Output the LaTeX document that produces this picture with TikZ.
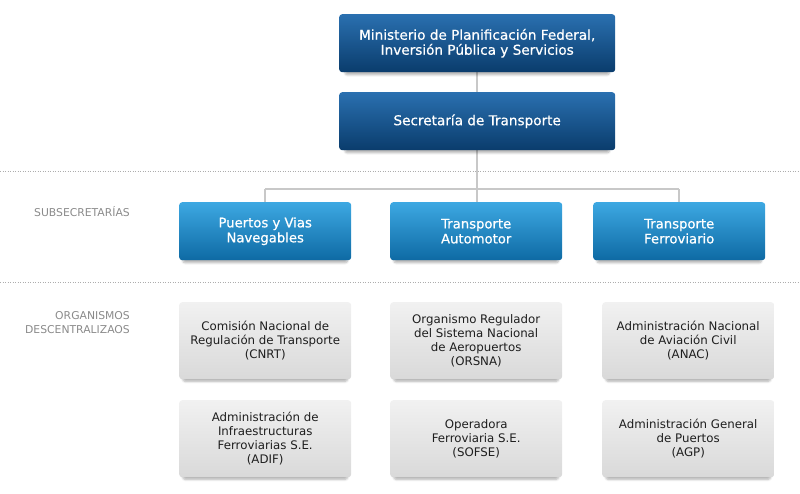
\documentclass[tikz,border=0pt]{standalone}
\usepackage{fontspec}
\setmainfont{DejaVu Sans}
\newfontfamily\boxfont[FakeBold=0.6]{DejaVu Sans}
\usetikzlibrary{shadows.blur}
\definecolor{dbtop}{HTML}{2A70B0}
\definecolor{dbbot}{HTML}{0A3C6C}
\definecolor{lbtop}{HTML}{3DA8E2}
\definecolor{lbbot}{HTML}{0E6AA4}
\definecolor{gtop}{HTML}{F1F1F1}
\definecolor{gbot}{HTML}{D9D9D9}
\definecolor{lbl}{HTML}{8A8A8A}
\definecolor{conn}{HTML}{C8C8C8}
\definecolor{gtext}{HTML}{1E1E1E}
\tikzset{
  x=1pt, y=-1pt,
  basebox/.style={rectangle, rounded corners=3pt, anchor=north west, align=center, inner sep=0pt,
    blur shadow={shadow xshift=0pt, shadow yshift=-4pt, shadow blur steps=6, shadow opacity=30, shadow scale=0.96}},
  darkbox/.style={basebox, top color=dbtop, bottom color=dbbot, text=white, font=\boxfont\fontsize{13.6}{15}\selectfont,
    minimum width=276pt, minimum height=58pt},
  subbox/.style={basebox, top color=lbtop, bottom color=lbbot, text=white, font=\boxfont\fontsize{13.2}{15}\selectfont,
    minimum width=172pt, minimum height=58pt},
  orgbox/.style={basebox, top color=gtop, bottom color=gbot, text=gtext, font=\fontsize{11.8}{14}\selectfont,
    minimum width=172pt, minimum height=77pt},
  sep/.style={draw=lbl!70, line width=0.6pt, dash pattern=on 1pt off 1.5pt},
  lab/.style={text=lbl, font=\fontsize{10.8}{14}\selectfont, align=right, anchor=north east, inner sep=0pt},
  cn/.style={draw=conn, line width=1.8pt}
}
\begin{document}
\begin{tikzpicture}
\useasboundingbox (0,0) rectangle (800,493);
% separators
\coordinate (s1l) at (0,171); \coordinate (s1r) at (800,171);
\coordinate (s2l) at (0,282); \coordinate (s2r) at (800,282);
\draw[sep] (s1l) -- (s1r);
\draw[sep] (s2l) -- (s2r);
% connectors (drawn first)
\coordinate (jc) at (477,189);
\coordinate (jl) at (265,189);
\coordinate (jr) at (679,189);
\draw[cn] (477,72) -- (477,92);
\draw[cn] (477,150) -- (jc);
\draw[cn] (jl) -- (jr);
\draw[cn] (jl) -- (265,203);
\draw[cn] (jr) -- (679,203);
\draw[cn] (jc) -- (477,203);
% top boxes
\node[darkbox] (min) at (339,14) {Ministerio de Planificación Federal,\\Inversión Pública y Servicios};
\node[darkbox] (sec) at (339,92) {Secretaría de Transporte};
% subsecretarias
\node[subbox] (pv) at (179,202) {Puertos y Vias\\Navegables};
\node[subbox] (ta) at (390,202) {Transporte\\Automotor};
\node[subbox] (tf) at (593,202) {Transporte\\Ferroviario};
% organismos
\node[orgbox] (cnrt) at (179,302) {Comisión Nacional de\\Regulación de Transporte\\(CNRT)};
\node[orgbox] (orsna) at (390,302) {Organismo Regulador\\del Sistema Nacional\\de Aeropuertos\\(ORSNA)};
\node[orgbox] (anac) at (602,302) {Administración Nacional\\de Aviación Civil\\(ANAC)};
\node[orgbox] (adif) at (179,400) {Administración de\\Infraestructuras\\Ferroviarias S.E.\\(ADIF)};
\node[orgbox] (sofse) at (390,400) {Operadora\\Ferroviaria S.E.\\(SOFSE)};
\node[orgbox] (agp) at (602,400) {Administración General\\de Puertos\\(AGP)};
% labels
\node[lab] (l1) at (130,206) {SUBSECRETARÍAS};
\node[lab] (l2) at (130,311) {ORGANISMOS\\DESCENTRALIZAOS};
\end{tikzpicture}
\end{document}
